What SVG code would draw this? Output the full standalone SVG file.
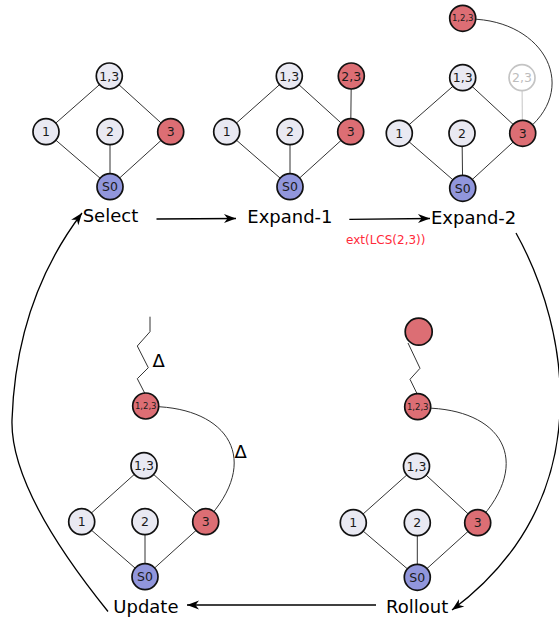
<svg xmlns="http://www.w3.org/2000/svg" width="559" height="625" viewBox="0 0 559 625">
<defs>
<marker id="arr" viewBox="-13 -6 14 12" refX="0" refY="0" markerWidth="14" markerHeight="12" markerUnits="userSpaceOnUse" orient="auto">
<path d="M0,0 L-12,-4.5 L-8.5,0 L-12,4.5 z" fill="#000"/>
</marker>
<style>
.n circle{stroke:#111;stroke-width:1.7}
.w{fill:#e9e9f2}
.r{fill:#dc6e74}
.b{fill:#9196dc}
.f{fill:#fff;stroke:#c4c4c4 !important}
.n text{font-family:"DejaVu Sans",sans-serif;font-size:12.5px;fill:#1a1a1a;text-anchor:middle}
.n text.s{font-size:8.5px}
.n text.ft{fill:#bdbdbd}
.e{stroke:#333;stroke-width:1;fill:none}
.fe{stroke:#cfcfcf;stroke-width:1.2;fill:none}
.big{stroke:#000;stroke-width:1.3;fill:none}
.lbl{font-family:"DejaVu Sans",sans-serif;font-size:18px;fill:#000}
.d{font-family:"DejaVu Sans",sans-serif;font-size:18px;fill:#000}
.red{font-family:"DejaVu Sans",sans-serif;font-size:12px;fill:#ff2a3a}
</style>
</defs>
<rect width="559" height="625" fill="#fff"/>

<g id="connectors">
<!-- panel 1 -->
<line class="e" x1="109.3" y1="76" x2="46" y2="131.7"/>
<line class="e" x1="109.3" y1="76" x2="170.7" y2="131.7"/>
<line class="e" x1="46" y1="131.7" x2="110" y2="186.7"/>
<line class="e" x1="110" y1="131.7" x2="110" y2="186.7"/>
<line class="e" x1="170.7" y1="131.7" x2="110" y2="186.7"/>
<!-- panel 2 -->
<line class="e" x1="289.3" y1="76" x2="226.7" y2="131.7"/>
<line class="e" x1="289.3" y1="76" x2="350.7" y2="131.7"/>
<line class="e" x1="351.3" y1="76" x2="350.7" y2="131.7"/>
<line class="e" x1="226.7" y1="131.7" x2="290" y2="186.7"/>
<line class="e" x1="290" y1="131.7" x2="290" y2="186.7"/>
<line class="e" x1="350.7" y1="131.7" x2="290" y2="186.7"/>
<!-- panel 3 -->
<line class="e" x1="462.7" y1="77.7" x2="399.3" y2="133.3"/>
<line class="e" x1="462.7" y1="77.7" x2="522.7" y2="133.3"/>
<line class="fe" x1="522" y1="77.7" x2="522.5" y2="133.3"/>
<line class="e" x1="399.3" y1="133.3" x2="462.7" y2="188.3"/>
<line class="e" x1="462" y1="133.3" x2="462.7" y2="188.3"/>
<line class="e" x1="522.7" y1="133.3" x2="462.7" y2="188.3"/>
<path class="e" d="M470,19 C545,20 582,90 522.7,133"/>
<!-- panel 4 rollout -->
<line class="e" x1="416.5" y1="466.3" x2="353.3" y2="522.7"/>
<line class="e" x1="416.5" y1="466.3" x2="477.7" y2="522.7"/>
<line class="e" x1="353.3" y1="522.7" x2="417.3" y2="577.3"/>
<line class="e" x1="417.3" y1="522.7" x2="417.3" y2="577.3"/>
<line class="e" x1="477.7" y1="522.7" x2="417.3" y2="577.3"/>
<polyline class="e" points="408,343 420,368.3 410,379.3 417.7,395"/>
<path class="e" d="M425,408 C500,409 535,460 477.7,522"/>
<!-- panel 5 update -->
<line class="e" x1="144" y1="465.7" x2="81.7" y2="521.7"/>
<line class="e" x1="144" y1="465.7" x2="205.7" y2="521.7"/>
<line class="e" x1="81.7" y1="521.7" x2="145" y2="576.7"/>
<line class="e" x1="145" y1="521.7" x2="145" y2="576.7"/>
<line class="e" x1="205.7" y1="521.7" x2="145" y2="576.7"/>
<polyline class="e" points="150,316.7 150,331.7 137.3,346 148.3,367.7 137.3,378.7 145.7,395"/>
<path class="e" d="M153,406.5 C228,408 263,460 205.7,521"/>
<!-- cycle arrows -->
<line class="big" x1="156.5" y1="219" x2="236" y2="218.5" marker-end="url(#arr)"/>
<line class="big" x1="349.3" y1="219.3" x2="430" y2="218.5" marker-end="url(#arr)"/>
<path class="big" d="M516,233 C570,330 600,500 452,610" marker-end="url(#arr)"/>
<line class="big" x1="376" y1="605" x2="187" y2="605" marker-end="url(#arr)"/>
<path class="big" d="M108,611.5 Q10,490 12,420 Q16,300 82,213" marker-end="url(#arr)"/>
</g>

<!-- panel 1 nodes -->
<g id="p1_13" class="n"><circle class="w" cx="109.3" cy="76" r="13"/><text x="109.3" y="80.5">1,3</text></g>
<g id="p1_1" class="n"><circle class="w" cx="46" cy="131.7" r="13"/><text x="46" y="136.2">1</text></g>
<g id="p1_2" class="n"><circle class="w" cx="110" cy="131.7" r="13"/><text x="110" y="136.2">2</text></g>
<g id="p1_3" class="n"><circle class="r" cx="170.7" cy="131.7" r="13"/><text x="170.7" y="136.2">3</text></g>
<g id="p1_s0" class="n"><circle class="b" cx="110" cy="186.7" r="13"/><text x="110" y="191.2">S0</text></g>

<!-- panel 2 nodes -->
<g id="p2_13" class="n"><circle class="w" cx="289.3" cy="76" r="13"/><text x="289.3" y="80.5">1,3</text></g>
<g id="p2_23" class="n"><circle class="r" cx="351.3" cy="76" r="13"/><text x="351.3" y="80.5">2,3</text></g>
<g id="p2_1" class="n"><circle class="w" cx="226.7" cy="131.7" r="13"/><text x="226.7" y="136.2">1</text></g>
<g id="p2_2" class="n"><circle class="w" cx="290" cy="131.7" r="13"/><text x="290" y="136.2">2</text></g>
<g id="p2_3" class="n"><circle class="r" cx="350.7" cy="131.7" r="13"/><text x="350.7" y="136.2">3</text></g>
<g id="p2_s0" class="n"><circle class="b" cx="290" cy="186.7" r="13"/><text x="290" y="191.2">S0</text></g>

<!-- panel 3 nodes -->
<g id="p3_123" class="n"><circle class="r" cx="462.7" cy="18.3" r="13"/><text class="s" x="462.7" y="21.3">1,2,3</text></g>
<g id="p3_13" class="n"><circle class="w" cx="462.7" cy="77.7" r="13"/><text x="462.7" y="82.2">1,3</text></g>
<g id="p3_23" class="n"><circle class="f" cx="522" cy="77.7" r="13"/><text class="ft" x="522" y="82.2">2,3</text></g>
<g id="p3_1" class="n"><circle class="w" cx="399.3" cy="133.3" r="13"/><text x="399.3" y="137.8">1</text></g>
<g id="p3_2" class="n"><circle class="w" cx="462" cy="133.3" r="13"/><text x="462" y="137.8">2</text></g>
<g id="p3_3" class="n"><circle class="r" cx="522.7" cy="133.3" r="13"/><text x="522.7" y="137.8">3</text></g>
<g id="p3_s0" class="n"><circle class="b" cx="462.7" cy="188.3" r="13"/><text x="462.7" y="192.8">S0</text></g>

<!-- panel 4 nodes (rollout) -->
<g id="p4_top" class="n"><circle class="r" cx="418.7" cy="331.7" r="13.5"/></g>
<g id="p4_123" class="n"><circle class="r" cx="417.7" cy="406.7" r="13"/><text class="s" x="417.7" y="409.7">1,2,3</text></g>
<g id="p4_13" class="n"><circle class="w" cx="416.5" cy="466.3" r="13"/><text x="416.5" y="470.8">1,3</text></g>
<g id="p4_1" class="n"><circle class="w" cx="353.3" cy="522.7" r="13"/><text x="353.3" y="527.2">1</text></g>
<g id="p4_2" class="n"><circle class="w" cx="417.3" cy="522.7" r="13"/><text x="417.3" y="527.2">2</text></g>
<g id="p4_3" class="n"><circle class="r" cx="477.7" cy="522.7" r="13"/><text x="477.7" y="527.2">3</text></g>
<g id="p4_s0" class="n"><circle class="b" cx="417.3" cy="577.3" r="13"/><text x="417.3" y="581.8">S0</text></g>

<!-- panel 5 nodes (update) -->
<g id="p5_123" class="n"><circle class="r" cx="145.7" cy="406" r="13"/><text class="s" x="145.7" y="409">1,2,3</text></g>
<g id="p5_13" class="n"><circle class="w" cx="144" cy="465.7" r="13"/><text x="144" y="470.2">1,3</text></g>
<g id="p5_1" class="n"><circle class="w" cx="81.7" cy="521.7" r="13"/><text x="81.7" y="526.2">1</text></g>
<g id="p5_2" class="n"><circle class="w" cx="145" cy="521.7" r="13"/><text x="145" y="526.2">2</text></g>
<g id="p5_3" class="n"><circle class="r" cx="205.7" cy="521.7" r="13"/><text x="205.7" y="526.2">3</text></g>
<g id="p5_s0" class="n"><circle class="b" cx="145" cy="576.7" r="13"/><text x="145" y="581.2">S0</text></g>

<g id="labels">
<text class="lbl" x="82.7" y="222">Select</text>
<text class="lbl" x="247.3" y="222.5">Expand-1</text>
<text class="lbl" x="431" y="224">Expand-2</text>
<text class="lbl" x="386" y="612.7">Rollout</text>
<text class="lbl" x="113.3" y="612.7">Update</text>
<text class="red" x="346" y="244">ext(LCS(2,3))</text>
<text class="d" x="152.5" y="366.5">Δ</text>
<text class="d" x="234.5" y="458">Δ</text>
</g>
</svg>
